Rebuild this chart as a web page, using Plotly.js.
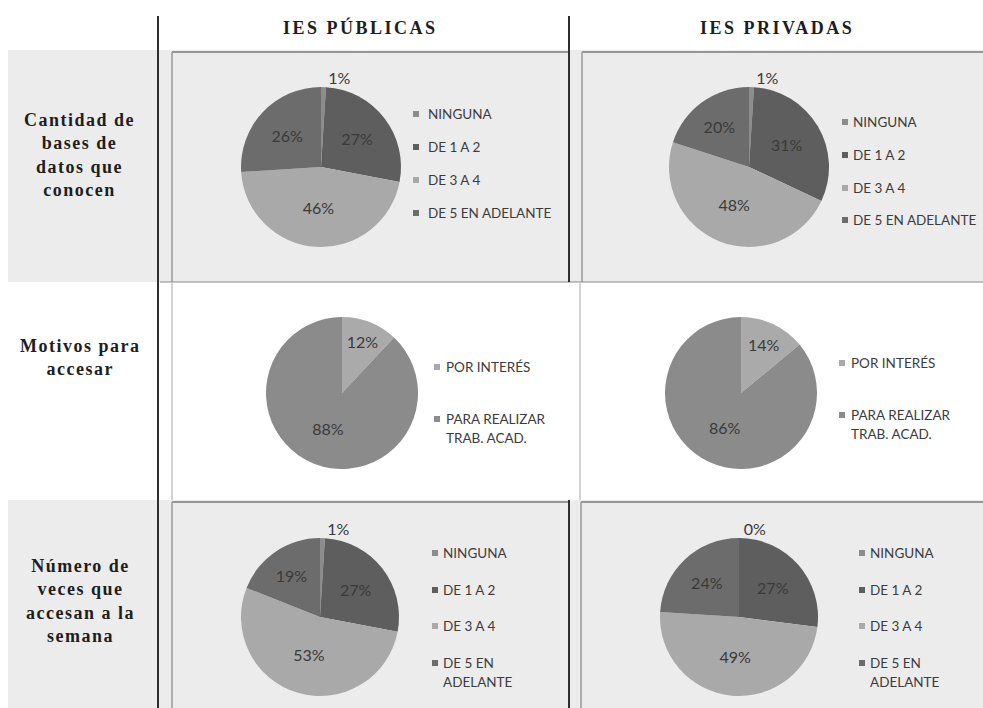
<!DOCTYPE html>
<html>
<head>
<meta charset="utf-8">
<script src="https://cdn.plot.ly/plotly-3.0.1.min.js"></script>
<style>html,body{margin:0;padding:0;background:#fff;}#chart{width:983px;height:708px;}</style>
</head>
<body>
<div id="chart"></div>
<script>
// ---- data ----
const columnTitles = ['IES PÚBLICAS', 'IES PRIVADAS'];
const rowTitles = ['Cantidad de<br>bases de<br>datos que<br>conocen', 'Motivos para<br>accesar', 'Número de<br>veces que<br>accesan a la<br>semana'];
const basesLabels = ['NINGUNA', 'DE 1 A 2', 'DE 3 A 4', 'DE 5 EN ADELANTE'];
const basesPublicas = [1, 27, 46, 26];
const basesPrivadas = [1, 31, 48, 20];
const motivosLabels = ['POR INTERÉS', 'PARA REALIZAR<br>TRAB. ACAD.'];
const motivosPublicas = [12, 88];
const motivosPrivadas = [14, 86];
const vecesLabels = ['NINGUNA', 'DE 1 A 2', 'DE 3 A 4', 'DE 5 EN<br>ADELANTE'];
const vecesPublicas = [1, 27, 53, 19];
const vecesPrivadas = [0, 27, 49, 24];

// ---- styling ----
const W = 983, H = 708;
const X = v => v / W;
const Y = v => 1 - v / H;
const col4 = ['#8c8c8c', '#5e5e5e', '#a9a9a9', '#6c6c6c'];
const col2 = ['#aaaaaa', '#8b8b8b'];
const txtFont = {family: 'Lato, "Open Sans", sans-serif', size: 16, color: '#3a3a3a'};
const legFont = {family: 'Lato, "Open Sans", sans-serif', size: 13.5, color: '#3c3c3c'};

function pie(labels, values, colors, cx, cy, r, positions) {
  return {
    type: 'pie', labels: labels, values: values, sort: false, direction: 'clockwise', rotation: 0,
    marker: {colors: colors, line: {width: 0}},
    texttemplate: '%{value}%', textinfo: 'text', textposition: positions,
    insidetextorientation: 'horizontal',
    textfont: txtFont, outsidetextfont: txtFont, insidetextfont: txtFont,
    domain: {x: [X(cx - r), X(cx + r)], y: [Y(cy + r), Y(cy - r)]},
    showlegend: false, hoverinfo: 'label+percent'
  };
}

const p4 = ['outside', 'inside', 'inside', 'inside'];
const p2 = ['inside', 'inside'];
const data = [
  pie(basesLabels, basesPublicas, col4, 321, 167, 80, p4),
  pie(basesLabels, basesPrivadas, col4, 749, 167, 80, p4),
  pie(motivosLabels, motivosPublicas, col2, 342, 393, 76, p2),
  pie(motivosLabels, motivosPrivadas, col2, 741, 393, 76, p2),
  pie(vecesLabels, vecesPublicas, col4, 320, 617, 79, p4),
  pie(vecesLabels, vecesPrivadas, col4, 739, 617, 79, p4)
];

const gray = '#ececec';
const L = (x0, y0, x1, y1, color, width) => ({type: 'line', xref: 'paper', yref: 'paper', x0: X(x0), x1: X(x1), y0: Y(y0), y1: Y(y1), line: {color: color, width: width}});
const shapes = [
  {type: 'rect', xref: 'paper', yref: 'paper', x0: X(8), x1: X(983), y0: Y(282), y1: Y(50), fillcolor: gray, line: {width: 0}, layer: 'below'},
  {type: 'rect', xref: 'paper', yref: 'paper', x0: X(8), x1: X(983), y0: Y(708), y1: Y(500), fillcolor: gray, line: {width: 0}, layer: 'below'},
  L(172, 52, 568, 52, '#7a7a7a', 1.5), L(172, 52, 172, 282, '#9a9a9a', 1.5),
  L(582, 52, 983, 52, '#7a7a7a', 1.5), L(582, 52, 582, 282, '#9a9a9a', 1.5),
  L(160, 282, 983, 282, '#8a8a8a', 1),
  L(172, 282, 172, 500, '#c4c4c4', 1.5), L(580, 282, 580, 500, '#c4c4c4', 1.5),
  L(172, 502, 568, 502, '#7a7a7a', 1.5), L(172, 502, 172, 708, '#9a9a9a', 1.5),
  L(581, 502, 983, 502, '#7a7a7a', 1.5), L(581, 502, 581, 708, '#9a9a9a', 1.5),
  L(158, 16, 158, 708, '#2e2e2e', 2), L(569, 16, 569, 282, '#2e2e2e', 2), L(569, 500, 569, 708, '#2e2e2e', 2)
];

const serif = {family: '"Liberation Serif", "DejaVu Serif", serif', size: 18, color: '#1e1e1e'};
const sp = (s, ls) => '<b><span style="letter-spacing:' + ls + 'px">' + s + '</span></b>';
const annotations = [
  {text: sp(columnTitles[0], 2.5), x: X(360), y: Y(28), xref: 'paper', yref: 'paper', showarrow: false, font: serif, xanchor: 'center', yanchor: 'middle'},
  {text: sp(columnTitles[1], 2.5), x: X(777), y: Y(28), xref: 'paper', yref: 'paper', showarrow: false, font: serif, xanchor: 'center', yanchor: 'middle'},
  {text: sp(rowTitles[0], 1.5), x: X(79), y: Y(155), xref: 'paper', yref: 'paper', showarrow: false, font: serif, xanchor: 'center', yanchor: 'middle', align: 'center'},
  {text: sp(rowTitles[1], 1.5), x: X(80), y: Y(357), xref: 'paper', yref: 'paper', showarrow: false, font: serif, xanchor: 'center', yanchor: 'middle', align: 'center'},
  {text: sp(rowTitles[2], 1.5), x: X(80), y: Y(601), xref: 'paper', yref: 'paper', showarrow: false, font: serif, xanchor: 'center', yanchor: 'middle', align: 'center'}
];

// legends built from the label / colour arrays
function legend(labels, colors, sx, tx, ys) {
  labels.forEach((lab, i) => {
    const y = ys[i];
    shapes.push({type: 'rect', xref: 'paper', yref: 'paper', x0: X(sx - 3), x1: X(sx + 3), y0: Y(y + 3), y1: Y(y - 3), fillcolor: colors[i], line: {width: 0}});
    lab.split('<br>').forEach((line, j) => {
      annotations.push({text: line, x: X(tx), y: Y(y + j * 19), xref: 'paper', yref: 'paper', showarrow: false, font: legFont, xanchor: 'left', yanchor: 'middle', align: 'left'});
    });
  });
}
legend(basesLabels, col4, 416, 426, [114, 147, 180, 213]);
legend(basesLabels, col4, 845, 851, [122, 155, 188, 220]);
legend(motivosLabels, col2, 437, 444, [367, 419]);
legend(motivosLabels, col2, 842, 849, [363, 415]);
legend(vecesLabels, col4, 435, 441, [553, 590, 626, 663]);
legend(vecesLabels, col4, 862, 868, [553, 590, 626, 663]);

const layout = {
  width: W, height: H, margin: {l: 0, r: 0, t: 0, b: 0},
  paper_bgcolor: '#ffffff', plot_bgcolor: '#ffffff',
  shapes: shapes, annotations: annotations, showlegend: false
};

Plotly.newPlot('chart', data, layout, {displayModeBar: false, staticPlot: true});
</script>
</body>
</html>
